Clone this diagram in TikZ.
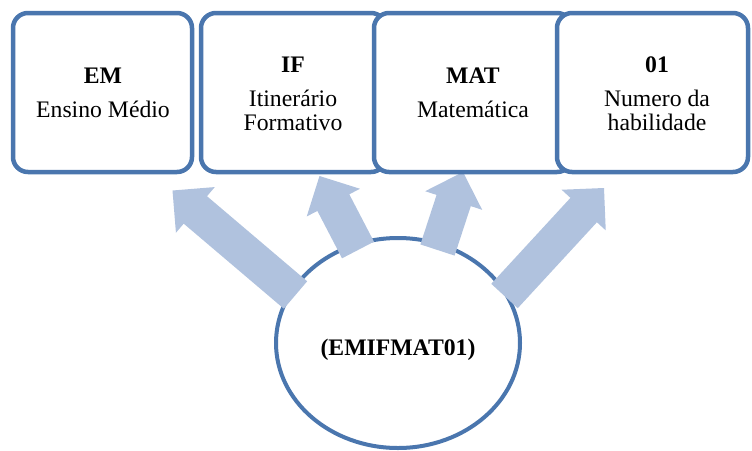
\documentclass[tikz,border=0pt]{standalone}
\usepackage{fontspec}
\setmainfont{Liberation Serif}
\usetikzlibrary{calc}
\definecolor{bordblue}{HTML}{4A76AE}
\definecolor{arrblue}{HTML}{B0C2DE}
\tikzset{
  box/.style={draw=bordblue, line width=4.5pt, fill=white, rounded corners=15pt},
  oval/.style={draw=bordblue, line width=4pt, fill=white},
  arrowfill/.style={fill=arrblue},
  ttl/.style={anchor=base, inner sep=0pt, font=\fontsize{23.7}{24}\selectfont\bfseries},
  txt/.style={anchor=base, inner sep=0pt, font=\fontsize{23.7}{24}\selectfont},
}
\newcommand{\blockarr}[3]{% tail, tip, name
  \coordinate (#3hb) at ($(#2)!30pt!(#1)$);
  \fill[arrowfill] ($(#1)!18pt!90:(#2)$) -- ($(#3hb)!18pt!-90:(#1)$) -- ($(#3hb)!30pt!-90:(#1)$)
    -- (#2) -- ($(#3hb)!30pt!90:(#1)$) -- ($(#3hb)!18pt!90:(#1)$) -- ($(#1)!18pt!-90:(#2)$) -- cycle;
}
\begin{document}
\begin{tikzpicture}[x=1pt,y=-1pt]
\useasboundingbox (0,0) rectangle (752,450);
% central ellipse
\draw[oval] (398,343) ellipse [x radius=122, y radius=105];
\node[ttl] (center) at (398,355) {(EMIFMAT01)};
% arrows
\coordinate (a1t) at (295.5,295); \coordinate (a1p) at (172.5,190.5);
\coordinate (a2t) at (358,250);   \coordinate (a2p) at (319.5,176);
\coordinate (a3t) at (437.5,250); \coordinate (a3p) at (463,172);
\coordinate (a4t) at (504.5,296); \coordinate (a4p) at (604,188);
\blockarr{a1t}{a1p}{a1}
\blockarr{a2t}{a2p}{a2}
\blockarr{a3t}{a3p}{a3}
\blockarr{a4t}{a4p}{a4}
% boxes
\draw[box] (13,13) rectangle (192,172) coordinate (b1);
\draw[box] (201,13) rectangle (386,172) coordinate (b2);
\draw[box] (374,13) rectangle (572,172) coordinate (b3);
\draw[box] (557,13) rectangle (748,172) coordinate (b4);
% texts
\node[ttl] (em) at (103,83) {EM};
\node[txt] (emt) at (103,117) {Ensino Médio};
\node[ttl] (if) at (293,72) {IF};
\node[txt] (ift1) at (293,106) {Itinerário};
\node[txt] (ift2) at (293,130) {Formativo};
\node[ttl] (mat) at (473,83) {MAT};
\node[txt] (matt) at (473,117) {Matemática};
\node[ttl] (n01) at (657,72) {01};
\node[txt] (n01t1) at (657,106) {Numero da};
\node[txt] (n01t2) at (657,130) {habilidade};
\end{tikzpicture}
\end{document}
